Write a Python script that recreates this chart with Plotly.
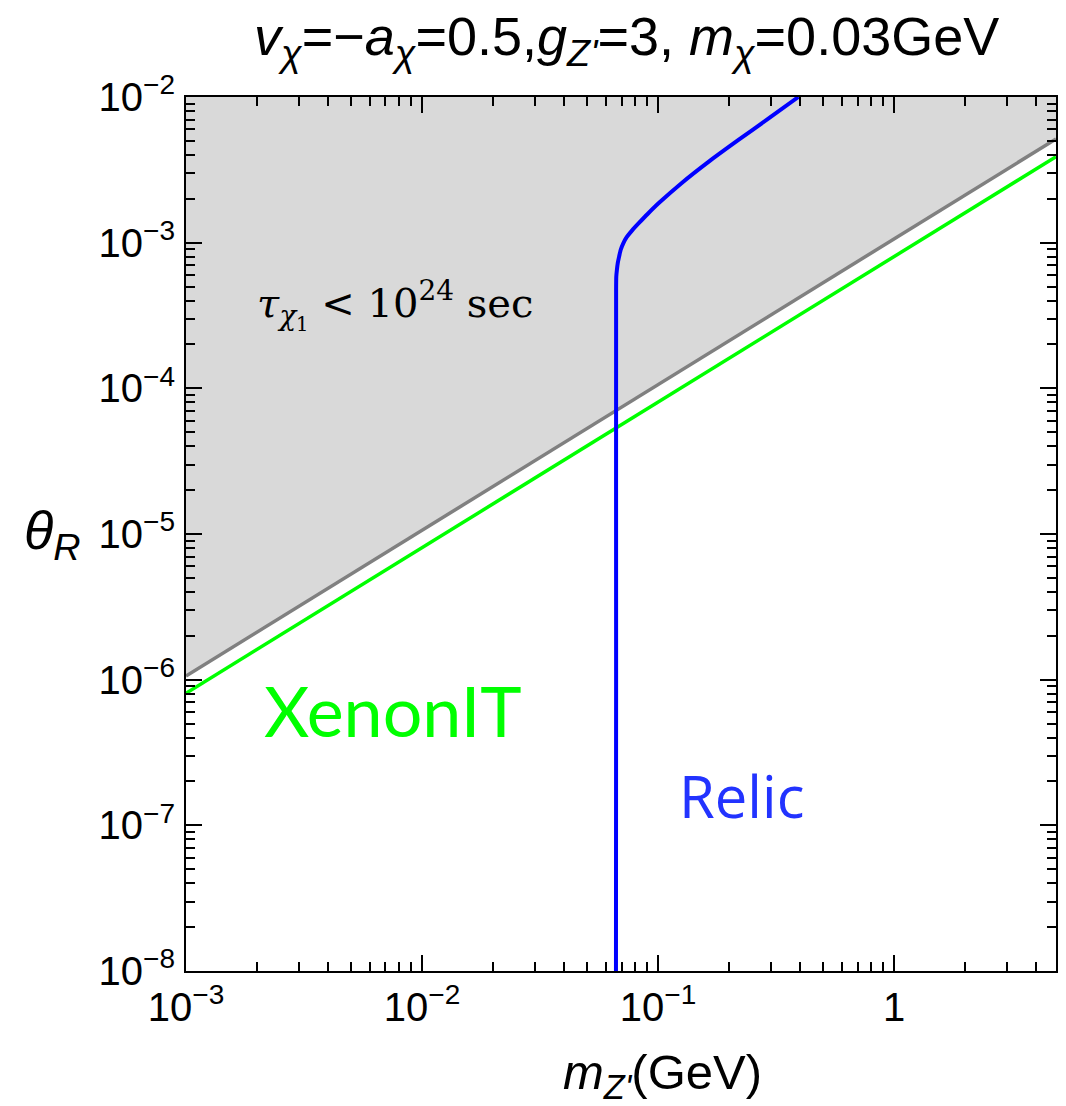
import numpy as np
import plotly.graph_objects as go

# Lifetime bound (gray) and XenonIT bound (green): straight lines in log-log
tau_m = [1e-3, 4.85]
tau_theta = [1.06e-6, 5.15e-3]
xenon_m = [1e-3, 4.85]
xenon_theta = [8.07e-7, 3.89e-3]

# Relic-abundance contour (blue)
relic_m = [0.0663, 0.0664, 0.0664, 0.0665, 0.0669, 0.0675, 0.0684, 0.0694, 0.0712,
           0.0736, 0.0778, 0.0828, 0.0905, 0.1007, 0.126, 0.164, 0.219, 0.293,
           0.393]
relic_theta = [1e-8, 1e-6, 4.73e-4, 5.82e-4, 6.50e-4, 7.26e-4, 8.05e-4, 8.91e-4,
               9.90e-4, 1.09e-3, 1.22e-3, 1.36e-3, 1.58e-3, 1.87e-3, 2.57e-3,
               3.60e-3, 5.07e-3, 7.10e-3, 1e-2]

x_range = [1e-3, 4.85]
y_range = [1e-8, 1e-2]

x_ticks = [1e-3, 1e-2, 1e-1, 1.0]
x_ticktext = ["10<sup>−3</sup>", "10<sup>−2</sup>", "10<sup>−1</sup>", "1"]
y_ticks = [1e-8, 1e-7, 1e-6, 1e-5, 1e-4, 1e-3, 1e-2]
y_ticktext = ["10<sup>−8</sup>", "10<sup>−7</sup>", "10<sup>−6</sup>", "10<sup>−5</sup>",
              "10<sup>−4</sup>", "10<sup>−3</sup>", "10<sup>−2</sup>"]

GRAY_FILL = "#d9d9d9"
GRAY_LINE = "#808080"
GREEN = "#00ff00"
BLUE = "#0000ff"
SANS = "Liberation Sans, Arial, sans-serif"


def minor_vals(lo_exp, hi_exp, upper):
    vals = []
    for e in range(lo_exp, hi_exp + 1):
        for d in range(2, 10):
            v = d * 10.0 ** e
            if v < upper:
                vals.append(v)
    return vals


fig = go.Figure()

# Shaded excluded region above the lifetime line
fig.add_trace(go.Scatter(
    x=tau_m + tau_m[::-1],
    y=tau_theta + [y_range[1]] * len(tau_m),
    fill="toself", fillcolor=GRAY_FILL, line=dict(width=0),
    mode="lines", hoverinfo="skip", showlegend=False,
))
fig.add_trace(go.Scatter(x=tau_m, y=tau_theta, mode="lines",
                         line=dict(color=GRAY_LINE, width=3.5), showlegend=False))
fig.add_trace(go.Scatter(x=xenon_m, y=xenon_theta, mode="lines",
                         line=dict(color=GREEN, width=3.5), showlegend=False))
fig.add_trace(go.Scatter(x=relic_m, y=relic_theta, mode="lines",
                         line=dict(color=BLUE, width=4, shape="spline", smoothing=0.5),
                         showlegend=False))

axis_common = dict(
    type="log", showgrid=False, zeroline=False,
    showline=True, linecolor="black", linewidth=2, mirror="allticks",
    ticks="inside", ticklen=16, tickwidth=1.5, tickcolor="black",
    tickfont=dict(family=SANS, size=40, color="black"),
)

fig.update_xaxes(
    **axis_common,
    range=[np.log10(x_range[0]), np.log10(x_range[1])],
    tickmode="array", tickvals=x_ticks, ticktext=x_ticktext,
    minor=dict(tickmode="array", tickvals=minor_vals(-3, 0, x_range[1]),
               ticks="inside", ticklen=9, tickwidth=1.5, tickcolor="black", showgrid=False),
)
fig.update_yaxes(
    **axis_common,
    range=[np.log10(y_range[0]), np.log10(y_range[1])],
    tickmode="array", tickvals=y_ticks, ticktext=y_ticktext,
    ticklabelstandoff=1,
    minor=dict(tickmode="array", tickvals=minor_vals(-8, -3, y_range[1]),
               ticks="inside", ticklen=9, tickwidth=1.5, tickcolor="black", showgrid=False),
)

annotations = [
    dict(text="XenonIT", x=-2.124, y=-6.207, xref="x", yref="y", showarrow=False,
         font=dict(family="Lato, Open Sans, sans-serif", size=70, color=GREEN)),
    dict(text="Relic", x=-0.645, y=-6.797, xref="x", yref="y", showarrow=False,
         font=dict(family="Open Sans, Lato, sans-serif", size=58, color="#2233ff")),
    dict(text="<i>τ</i><sub><i>χ</i><sub>1</sub></sub> &lt; 10<sup>24</sup> sec",
         x=-2.116, y=-3.428, xref="x", yref="y", showarrow=False,
         font=dict(family="DejaVu Serif, Liberation Serif, serif", size=40, color="black")),
    dict(text="<i>θ</i><sub><i>R</i></sub>", x=-0.154, y=0.50, xref="paper", yref="paper",
         showarrow=False, xanchor="center", yanchor="middle",
         font=dict(family=SANS, size=54, color="black")),
    dict(text="<i>m</i><sub><i>Z'</i></sub>(GeV)", x=0.548, y=-0.119, xref="paper", yref="paper",
         showarrow=False, xanchor="center", yanchor="middle",
         font=dict(family=SANS, size=49, color="black")),
    dict(text="<i>v</i><sub><i>χ</i></sub>=−<i>a</i><sub><i>χ</i></sub>=0.5,"
              "<i>g</i><sub><i>Z'</i></sub>=3, <i>m</i><sub><i>χ</i></sub>=0.03GeV",
         x=0.506, y=1.065, xref="paper", yref="paper", showarrow=False,
         xanchor="center", yanchor="middle",
         font=dict(family=SANS, size=54, color="black")),
]

fig.update_layout(
    width=1066, height=1106,
    margin=dict(l=186, r=8, t=97, b=135),
    paper_bgcolor="white", plot_bgcolor="white",
    annotations=annotations,
)

fig.write_html("out.html")
